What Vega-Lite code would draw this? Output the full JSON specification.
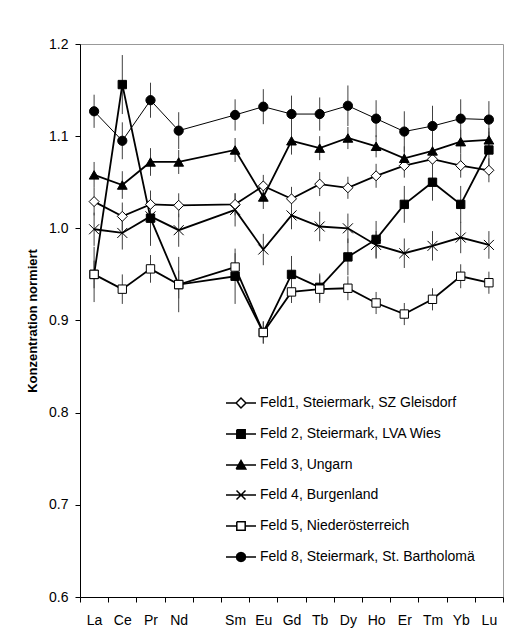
{
  "$schema": "https://vega.github.io/schema/vega-lite/v6.json",
  "width": 423,
  "height": 553,
  "autosize": "none",
  "padding": {"left": 80, "top": 44, "right": 4, "bottom": 42},
  "background": "white",
  "config": {
    "font": "Liberation Sans",
    "view": {"stroke": "#999999", "strokeWidth": 1},
    "axis": {"labelFont": "Liberation Sans", "labelFontSize": 14, "labelColor": "black", "domainColor": "black", "tickColor": "black", "grid": false, "titleFont": "Liberation Sans", "titleColor": "black"}
  },
  "data": {"values": [
    {"el": "La", "z": 57, "s": "Feld1, Steiermark, SZ Gleisdorf", "v": 1.029, "e": 0.015},
    {"el": "Ce", "z": 58, "s": "Feld1, Steiermark, SZ Gleisdorf", "v": 1.013, "e": 0.015},
    {"el": "Pr", "z": 59, "s": "Feld1, Steiermark, SZ Gleisdorf", "v": 1.026, "e": 0.013},
    {"el": "Nd", "z": 60, "s": "Feld1, Steiermark, SZ Gleisdorf", "v": 1.025, "e": 0.013},
    {"el": "Sm", "z": 62, "s": "Feld1, Steiermark, SZ Gleisdorf", "v": 1.026, "e": 0.012},
    {"el": "Eu", "z": 63, "s": "Feld1, Steiermark, SZ Gleisdorf", "v": 1.046, "e": 0.012},
    {"el": "Gd", "z": 64, "s": "Feld1, Steiermark, SZ Gleisdorf", "v": 1.032, "e": 0.013},
    {"el": "Tb", "z": 65, "s": "Feld1, Steiermark, SZ Gleisdorf", "v": 1.048, "e": 0.013},
    {"el": "Dy", "z": 66, "s": "Feld1, Steiermark, SZ Gleisdorf", "v": 1.044, "e": 0.012},
    {"el": "Ho", "z": 67, "s": "Feld1, Steiermark, SZ Gleisdorf", "v": 1.057, "e": 0.013},
    {"el": "Er", "z": 68, "s": "Feld1, Steiermark, SZ Gleisdorf", "v": 1.068, "e": 0.013},
    {"el": "Tm", "z": 69, "s": "Feld1, Steiermark, SZ Gleisdorf", "v": 1.075, "e": 0.012},
    {"el": "Yb", "z": 70, "s": "Feld1, Steiermark, SZ Gleisdorf", "v": 1.068, "e": 0.013},
    {"el": "Lu", "z": 71, "s": "Feld1, Steiermark, SZ Gleisdorf", "v": 1.063, "e": 0.013},
    {"el": "La", "z": 57, "s": "Feld 2, Steiermark, LVA Wies", "v": 0.950, "e": 0.03},
    {"el": "Ce", "z": 58, "s": "Feld 2, Steiermark, LVA Wies", "v": 1.156, "e": 0.032},
    {"el": "Pr", "z": 59, "s": "Feld 2, Steiermark, LVA Wies", "v": 1.011, "e": 0.03},
    {"el": "Nd", "z": 60, "s": "Feld 2, Steiermark, LVA Wies", "v": 0.939, "e": 0.03},
    {"el": "Sm", "z": 62, "s": "Feld 2, Steiermark, LVA Wies", "v": 0.948, "e": 0.03},
    {"el": "Eu", "z": 63, "s": "Feld 2, Steiermark, LVA Wies", "v": 0.887, "e": 0.012},
    {"el": "Gd", "z": 64, "s": "Feld 2, Steiermark, LVA Wies", "v": 0.950, "e": 0.02},
    {"el": "Tb", "z": 65, "s": "Feld 2, Steiermark, LVA Wies", "v": 0.936, "e": 0.015},
    {"el": "Dy", "z": 66, "s": "Feld 2, Steiermark, LVA Wies", "v": 0.969, "e": 0.02},
    {"el": "Ho", "z": 67, "s": "Feld 2, Steiermark, LVA Wies", "v": 0.988, "e": 0.02},
    {"el": "Er", "z": 68, "s": "Feld 2, Steiermark, LVA Wies", "v": 1.026, "e": 0.02},
    {"el": "Tm", "z": 69, "s": "Feld 2, Steiermark, LVA Wies", "v": 1.050, "e": 0.02},
    {"el": "Yb", "z": 70, "s": "Feld 2, Steiermark, LVA Wies", "v": 1.026, "e": 0.02},
    {"el": "Lu", "z": 71, "s": "Feld 2, Steiermark, LVA Wies", "v": 1.085, "e": 0.02},
    {"el": "La", "z": 57, "s": "Feld 3, Ungarn", "v": 1.058, "e": 0.014},
    {"el": "Ce", "z": 58, "s": "Feld 3, Ungarn", "v": 1.047, "e": 0.015},
    {"el": "Pr", "z": 59, "s": "Feld 3, Ungarn", "v": 1.072, "e": 0.015},
    {"el": "Nd", "z": 60, "s": "Feld 3, Ungarn", "v": 1.072, "e": 0.013},
    {"el": "Sm", "z": 62, "s": "Feld 3, Ungarn", "v": 1.085, "e": 0.013},
    {"el": "Eu", "z": 63, "s": "Feld 3, Ungarn", "v": 1.034, "e": 0.013},
    {"el": "Gd", "z": 64, "s": "Feld 3, Ungarn", "v": 1.095, "e": 0.015},
    {"el": "Tb", "z": 65, "s": "Feld 3, Ungarn", "v": 1.087, "e": 0.013},
    {"el": "Dy", "z": 66, "s": "Feld 3, Ungarn", "v": 1.098, "e": 0.012},
    {"el": "Ho", "z": 67, "s": "Feld 3, Ungarn", "v": 1.089, "e": 0.012},
    {"el": "Er", "z": 68, "s": "Feld 3, Ungarn", "v": 1.076, "e": 0.013},
    {"el": "Tm", "z": 69, "s": "Feld 3, Ungarn", "v": 1.084, "e": 0.013},
    {"el": "Yb", "z": 70, "s": "Feld 3, Ungarn", "v": 1.094, "e": 0.013},
    {"el": "Lu", "z": 71, "s": "Feld 3, Ungarn", "v": 1.096, "e": 0.013},
    {"el": "La", "z": 57, "s": "Feld 4, Burgenland", "v": 0.999, "e": 0.018},
    {"el": "Ce", "z": 58, "s": "Feld 4, Burgenland", "v": 0.995, "e": 0.018},
    {"el": "Pr", "z": 59, "s": "Feld 4, Burgenland", "v": 1.013, "e": 0.018},
    {"el": "Nd", "z": 60, "s": "Feld 4, Burgenland", "v": 0.998, "e": 0.018},
    {"el": "Sm", "z": 62, "s": "Feld 4, Burgenland", "v": 1.020, "e": 0.018},
    {"el": "Eu", "z": 63, "s": "Feld 4, Burgenland", "v": 0.977, "e": 0.017},
    {"el": "Gd", "z": 64, "s": "Feld 4, Burgenland", "v": 1.014, "e": 0.015},
    {"el": "Tb", "z": 65, "s": "Feld 4, Burgenland", "v": 1.002, "e": 0.016},
    {"el": "Dy", "z": 66, "s": "Feld 4, Burgenland", "v": 1.000, "e": 0.016},
    {"el": "Ho", "z": 67, "s": "Feld 4, Burgenland", "v": 0.982, "e": 0.015},
    {"el": "Er", "z": 68, "s": "Feld 4, Burgenland", "v": 0.973, "e": 0.016},
    {"el": "Tm", "z": 69, "s": "Feld 4, Burgenland", "v": 0.981, "e": 0.016},
    {"el": "Yb", "z": 70, "s": "Feld 4, Burgenland", "v": 0.990, "e": 0.017},
    {"el": "Lu", "z": 71, "s": "Feld 4, Burgenland", "v": 0.982, "e": 0.015},
    {"el": "La", "z": 57, "s": "Feld 5, Niederösterreich", "v": 0.950, "e": 0.015},
    {"el": "Ce", "z": 58, "s": "Feld 5, Niederösterreich", "v": 0.934, "e": 0.016},
    {"el": "Pr", "z": 59, "s": "Feld 5, Niederösterreich", "v": 0.956, "e": 0.015},
    {"el": "Nd", "z": 60, "s": "Feld 5, Niederösterreich", "v": 0.939, "e": 0.015},
    {"el": "Sm", "z": 62, "s": "Feld 5, Niederösterreich", "v": 0.958, "e": 0.015},
    {"el": "Eu", "z": 63, "s": "Feld 5, Niederösterreich", "v": 0.887, "e": 0.012},
    {"el": "Gd", "z": 64, "s": "Feld 5, Niederösterreich", "v": 0.931, "e": 0.012},
    {"el": "Tb", "z": 65, "s": "Feld 5, Niederösterreich", "v": 0.934, "e": 0.015},
    {"el": "Dy", "z": 66, "s": "Feld 5, Niederösterreich", "v": 0.935, "e": 0.013},
    {"el": "Ho", "z": 67, "s": "Feld 5, Niederösterreich", "v": 0.919, "e": 0.012},
    {"el": "Er", "z": 68, "s": "Feld 5, Niederösterreich", "v": 0.907, "e": 0.012},
    {"el": "Tm", "z": 69, "s": "Feld 5, Niederösterreich", "v": 0.923, "e": 0.012},
    {"el": "Yb", "z": 70, "s": "Feld 5, Niederösterreich", "v": 0.948, "e": 0.013},
    {"el": "Lu", "z": 71, "s": "Feld 5, Niederösterreich", "v": 0.941, "e": 0.012},
    {"el": "La", "z": 57, "s": "Feld 8, Steiermark, St. Bartholomä", "v": 1.127, "e": 0.018},
    {"el": "Ce", "z": 58, "s": "Feld 8, Steiermark, St. Bartholomä", "v": 1.095, "e": 0.02},
    {"el": "Pr", "z": 59, "s": "Feld 8, Steiermark, St. Bartholomä", "v": 1.139, "e": 0.019},
    {"el": "Nd", "z": 60, "s": "Feld 8, Steiermark, St. Bartholomä", "v": 1.106, "e": 0.02},
    {"el": "Sm", "z": 62, "s": "Feld 8, Steiermark, St. Bartholomä", "v": 1.123, "e": 0.017},
    {"el": "Eu", "z": 63, "s": "Feld 8, Steiermark, St. Bartholomä", "v": 1.132, "e": 0.019},
    {"el": "Gd", "z": 64, "s": "Feld 8, Steiermark, St. Bartholomä", "v": 1.124, "e": 0.02},
    {"el": "Tb", "z": 65, "s": "Feld 8, Steiermark, St. Bartholomä", "v": 1.124, "e": 0.018},
    {"el": "Dy", "z": 66, "s": "Feld 8, Steiermark, St. Bartholomä", "v": 1.133, "e": 0.022},
    {"el": "Ho", "z": 67, "s": "Feld 8, Steiermark, St. Bartholomä", "v": 1.119, "e": 0.02},
    {"el": "Er", "z": 68, "s": "Feld 8, Steiermark, St. Bartholomä", "v": 1.105, "e": 0.022},
    {"el": "Tm", "z": 69, "s": "Feld 8, Steiermark, St. Bartholomä", "v": 1.111, "e": 0.022},
    {"el": "Yb", "z": 70, "s": "Feld 8, Steiermark, St. Bartholomä", "v": 1.119, "e": 0.021},
    {"el": "Lu", "z": 71, "s": "Feld 8, Steiermark, St. Bartholomä", "v": 1.118, "e": 0.02}
  ]},
  "encoding": {
    "x": {
      "field": "el", "type": "ordinal",
      "scale": {"type": "band", "domain": ["La", "Ce", "Pr", "Nd", "Pm", "Sm", "Eu", "Gd", "Tb", "Dy", "Ho", "Er", "Tm", "Yb", "Lu"], "paddingInner": 0, "paddingOuter": 0},
      "axis": {"title": null, "labelAngle": 0, "tickBand": "extent", "tickSize": 5, "labelPadding": 11, "labelExpr": "datum.value == 'Pm' ? '' : datum.value"}
    },
    "y": {
      "field": "v", "type": "quantitative",
      "scale": {"domain": [0.6, 1.2], "nice": false, "zero": false},
      "axis": {"title": "Konzentration normiert", "values": [0.6, 0.7, 0.8, 0.9, 1.0, 1.1, 1.2], "format": ".1f", "tickSize": 5, "labelPadding": 7, "titleFontWeight": "bold", "titleFontSize": 13, "titlePadding": 9}
    }
  },
  "layer": [
    {
      "mark": {"type": "errorbar", "color": "#404040", "thickness": 1},
      "encoding": {"yError": {"field": "e"}}
    },
    {
      "transform": [{"filter": "datum.s != 'Feld 8, Steiermark, St. Bartholomä'"}],
      "mark": {"type": "line", "strokeWidth": 1.8, "stroke": "black"},
      "encoding": {
        "detail": {"field": "s"},
        "order": {"field": "z", "type": "quantitative"}
      }
    },
    {
      "transform": [{"filter": "datum.s == 'Feld 8, Steiermark, St. Bartholomä'"}],
      "mark": {"type": "line", "strokeWidth": 1, "stroke": "black"},
      "encoding": {
        "order": {"field": "z", "type": "quantitative"}
      }
    },
    {
      "transform": [{"filter": "datum.s == 'Feld1, Steiermark, SZ Gleisdorf'"}],
      "mark": {"type": "point", "shape": "diamond", "fill": "white", "stroke": "black", "strokeWidth": 1, "opacity": 1, "size": 100}
    },
    {
      "transform": [{"filter": "datum.s == 'Feld 2, Steiermark, LVA Wies'"}],
      "mark": {"type": "point", "shape": "square", "fill": "black", "stroke": "black", "strokeWidth": 1, "opacity": 1, "size": 70}
    },
    {
      "transform": [{"filter": "datum.s == 'Feld 3, Ungarn'"}],
      "mark": {"type": "point", "shape": "triangle-up", "fill": "black", "stroke": "black", "strokeWidth": 1, "opacity": 1, "size": 95}
    },
    {
      "transform": [{"filter": "datum.s == 'Feld 4, Burgenland'"}],
      "mark": {"type": "point", "shape": "M-1,-1L1,1M-1,1L1,-1", "fill": "black", "stroke": "black", "strokeWidth": 1, "opacity": 1, "size": 100}
    },
    {
      "transform": [{"filter": "datum.s == 'Feld 5, Niederösterreich'"}],
      "mark": {"type": "point", "shape": "square", "fill": "white", "stroke": "black", "strokeWidth": 1, "opacity": 1, "size": 70}
    },
    {
      "transform": [{"filter": "datum.s == 'Feld 8, Steiermark, St. Bartholomä'"}],
      "mark": {"type": "point", "shape": "circle", "fill": "black", "stroke": "black", "strokeWidth": 1, "opacity": 1, "size": 85}
    },
    {
      "mark": {"type": "point", "filled": false, "stroke": "black", "strokeWidth": 1, "opacity": 0},
      "encoding": {
        "shape": {"field": "s", "type": "nominal", "scale": {"domain": ["Feld1, Steiermark, SZ Gleisdorf", "Feld 2, Steiermark, LVA Wies", "Feld 3, Ungarn", "Feld 4, Burgenland", "Feld 5, Niederösterreich", "Feld 8, Steiermark, St. Bartholomä"], "range": [
          "M-1,0L-0.33,0M0.33,0L1,0M-0.33,0L0,-0.33L0.33,0L0,0.33L-0.33,0",
          "M-1,0L1,0M-0.28,-0.28L0.28,-0.28L0.28,0.28L-0.28,0.28L-0.28,-0.28",
          "M-1,0L1,0M-0.32,0.26L0,-0.3L0.32,0.26L-0.32,0.26",
          "M-1,0L1,0M-0.3,-0.3L0.3,0.3M-0.3,0.3L0.3,-0.3",
          "M-1,0L-0.28,0M0.28,0L1,0M-0.28,-0.28L0.28,-0.28L0.28,0.28L-0.28,0.28L-0.28,-0.28",
          "M-1,0L1,0M0.3,0L0.26,0.15L0.15,0.26L0,0.3L-0.15,0.26L-0.26,0.15L-0.3,0L-0.26,-0.15L-0.15,-0.26L0,-0.3L0.15,-0.26L0.26,-0.15L0.3,0"
        ]},
          "legend": {"title": null, "orient": "none", "legendX": 145, "legendY": 343, "padding": 0, "symbolSize": 900, "symbolOpacity": 1, "symbolStrokeColor": "black", "symbolStrokeWidth": 1.5, "labelFontSize": 14, "labelColor": "black", "labelLimit": 400, "labelOffset": 3, "rowPadding": 7, "encode": {"symbols": {"update": {"opacity": {"value": 1}, "stroke": {"value": "black"}, "strokeWidth": {"value": 1.5}}}}}},
        "fill": {"field": "s", "type": "nominal", "scale": {"domain": ["Feld1, Steiermark, SZ Gleisdorf", "Feld 2, Steiermark, LVA Wies", "Feld 3, Ungarn", "Feld 4, Burgenland", "Feld 5, Niederösterreich", "Feld 8, Steiermark, St. Bartholomä"], "range": ["white", "black", "black", "black", "white", "black"]},
          "legend": {"title": null, "orient": "none", "legendX": 145, "legendY": 343, "padding": 0, "symbolSize": 900, "symbolOpacity": 1, "symbolStrokeColor": "black", "symbolStrokeWidth": 1.5, "labelFontSize": 14, "labelColor": "black", "labelLimit": 400, "labelOffset": 3, "rowPadding": 7, "encode": {"symbols": {"update": {"opacity": {"value": 1}, "stroke": {"value": "black"}, "strokeWidth": {"value": 1.5}}}}}}
      }
    }
  ]
}
